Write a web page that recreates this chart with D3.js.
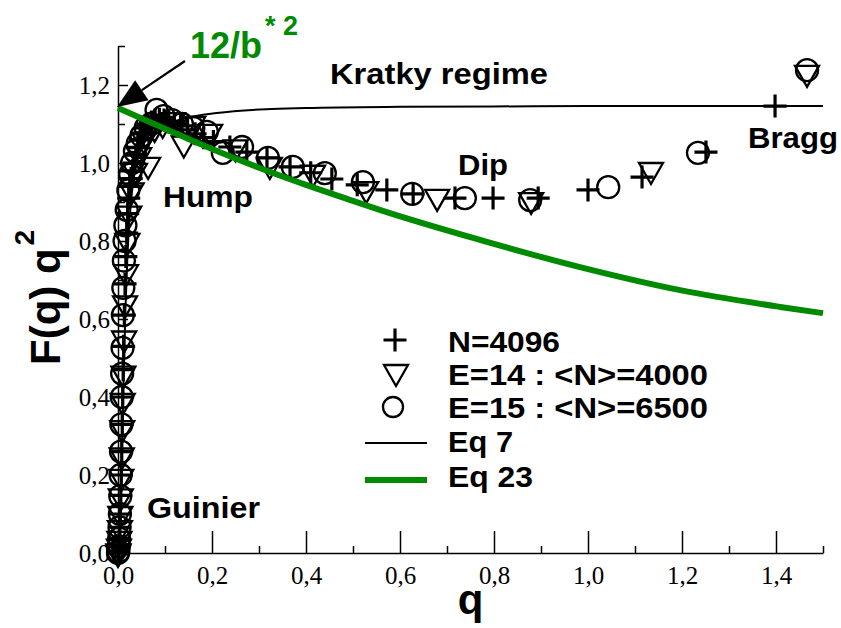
<!DOCTYPE html>
<html><head><meta charset="utf-8">
<script src="https://cdn.jsdelivr.net/npm/d3@7"></script>
<style>body{margin:0;background:#fff}svg{display:block}</style>
</head><body>
<svg id="chart" width="841" height="628"></svg>
<script>
// ---------- data ----------
const xTickValues = [0, 0.2, 0.4, 0.6, 0.8, 1.0, 1.2, 1.4];
const xMinorValues = [0.1, 0.3, 0.5, 0.7, 0.9, 1.1, 1.3, 1.5];
const yTickValues = [0, 0.2, 0.4, 0.6, 0.8, 1.0, 1.2];
const yMinorValues = [0.1, 0.3, 0.5, 0.7, 0.9, 1.1, 1.3];

// N=4096 (plus)
const plusQ = [0,0.001,0.002,0.003,0.004,0.005,0.006,0.007,0.008,0.009,0.010,0.011,0.012,0.0135,0.015,0.0167,0.0185,0.0205,0.0228,0.025,0.028,0.031,0.034,0.038,0.042,0.047,0.052,0.058,0.064,0.071,0.079,0.088,0.098,0.108,0.120,0.133,0.148,0.164,0.182,0.203,0.238,0.274,0.317,0.366,0.41,0.455,0.509,0.572,0.628,0.717,0.798,0.894,1.0,1.115,1.251,1.398];
const plusV = [0,0.004,0.016,0.037,0.066,0.10,0.148,0.20,0.26,0.33,0.40,0.47,0.53,0.61,0.69,0.76,0.82,0.87,0.91,0.94,0.96,0.98,1.00,1.02,1.04,1.06,1.075,1.09,1.10,1.105,1.11,1.112,1.11,1.105,1.10,1.095,1.085,1.075,1.065,1.055,1.041,1.028,1.013,0.990,0.975,0.959,0.944,0.931,0.921,0.910,0.910,0.910,0.931,0.964,1.028,1.146];

// E=14 : <N>=4000 (down triangle)
const triQ = [0,0.001,0.002,0.003,0.004,0.005,0.006,0.007,0.008,0.009,0.010,0.0115,0.013,0.015,0.017,0.020,0.024,0.029,0.036,0.045,0.055,0.064,0.078,0.095,0.117,0.140,0.160,0.196,0.250,0.323,0.415,0.528,0.679,0.879,1.134,1.466];
const triV = [0,0.004,0.016,0.036,0.064,0.10,0.145,0.195,0.25,0.32,0.39,0.46,0.55,0.64,0.72,0.80,0.87,0.93,0.98,1.02,1.06,0.995,1.09,1.10,1.11,1.05,1.10,1.08,1.04,0.995,0.975,0.933,0.913,0.905,0.982,1.231];

// E=15 : <N>=6500 (circle)
const circQ = [0,0.0008,0.0016,0.0024,0.0032,0.004,0.0048,0.0056,0.0064,0.0072,0.008,0.0088,0.0096,0.0104,0.0113,0.0125,0.014,0.0157,0.0185,0.022,0.026,0.030,0.036,0.042,0.050,0.059,0.070,0.082,0.097,0.115,0.136,0.160,0.189,0.223,0.264,0.319,0.372,0.44,0.521,0.626,0.738,0.877,1.043,1.234,1.466];
const circV = [0,0.004,0.017,0.037,0.066,0.10,0.146,0.20,0.26,0.33,0.40,0.46,0.526,0.61,0.68,0.75,0.80,0.84,0.88,0.93,0.97,1.0,1.03,1.05,1.07,1.09,1.10,1.136,1.12,1.11,1.10,1.09,1.08,1.026,1.041,1.013,0.99,0.974,0.951,0.921,0.91,0.905,0.938,1.026,1.238];

// Eq 7 (black thin line)
const eq7Q = [0,0.004,0.008,0.012,0.016,0.02,0.03,0.04,0.06,0.08,0.1,0.143,0.21,0.315,0.4,0.6,0.8,1.0,1.2,1.5];
const eq7V = [0,0.06,0.24,0.45,0.63,0.76,0.93,1.0,1.06,1.085,1.098,1.115,1.128,1.138,1.141,1.144,1.145,1.146,1.146,1.146];

// Eq 23 (green thick line)
const eq23Q = [0,0.1,0.2,0.3,0.4,0.5,0.557,0.77,0.983,1.196,1.409,1.5];
const eq23V = [1.141,1.088,1.036,0.988,0.944,0.903,0.88,0.803,0.733,0.674,0.631,0.615];

const legendLabels = ["N=4096", "E=14 : <N>=4000", "E=15 : <N>=6500", "Eq 7", "Eq 23"];

// ---------- drawing ----------
const GREEN = "#008a00";
const SANS = "'Liberation Sans', Arial, Helvetica, sans-serif";
const SERIF = "'Liberation Serif', 'Times New Roman', serif";
const svg = d3.select("#chart");
const x = d3.scaleLinear().domain([0, 1.5]).range([118, 823]);
const y = d3.scaleLinear().domain([0, 1.3]).range([553, 46]);
const fmt = d => d.toFixed(1).replace(".", ",");

// x axis
const gx = svg.append("g").attr("transform", `translate(0,${y(0)})`);
gx.call(d3.axisBottom(x).tickValues(xTickValues).tickSizeInner(-22).tickSizeOuter(0).tickFormat(fmt));
const gxm = svg.append("g").attr("transform", `translate(0,${y(0)})`);
gxm.call(d3.axisBottom(x).tickValues(xMinorValues).tickSizeInner(-7).tickSizeOuter(0).tickFormat(""));
gxm.select(".domain").remove();
gx.selectAll("text").attr("y", 31).attr("dy", 0)
  .style("font-family", SERIF).style("font-size", "25px").attr("fill", "#000");

// y axis
const gy = svg.append("g").attr("transform", `translate(${x(0)},0)`);
gy.call(d3.axisLeft(y).tickValues(yTickValues).tickSizeInner(-10).tickSizeOuter(0).tickFormat(fmt));
const gym = svg.append("g").attr("transform", `translate(${x(0)},0)`);
gym.call(d3.axisLeft(y).tickValues(yMinorValues).tickSizeInner(-7).tickSizeOuter(0).tickFormat(""));
gym.select(".domain").remove();
gy.selectAll("text").attr("x", -8).attr("dy", "0.34em")
  .style("font-family", SERIF).style("font-size", "25px").attr("fill", "#000");

svg.selectAll(".domain, .tick line").attr("stroke", "#000").attr("stroke-width", 1.5);

// markers
const plusPath = "M-11.5,0H11.5M0,-11.5V11.5";
const triPath = "M-12,-7L12,-7L0,14Z";

const plusData = d3.zip(plusQ, plusV);
const triData = d3.zip(triQ, triV);
const circData = d3.zip(circQ, circV);

svg.append("g").selectAll("path").data(plusData).join("path")
  .attr("d", plusPath).attr("transform", d => `translate(${x(d[0])},${y(d[1])})`)
  .attr("fill", "none").attr("stroke", "#000").attr("stroke-width", 3.2);
svg.append("g").selectAll("path").data(triData).join("path")
  .attr("d", triPath).attr("transform", d => `translate(${x(d[0])},${y(d[1])})`)
  .attr("fill", "none").attr("stroke", "#000").attr("stroke-width", 2.3);
svg.append("g").selectAll("circle").data(circData).join("circle")
  .attr("cx", d => x(d[0])).attr("cy", d => y(d[1])).attr("r", 11)
  .attr("fill", "none").attr("stroke", "#000").attr("stroke-width", 2.3);

// lines
const line = d3.line().x(d => x(d[0])).y(d => y(d[1])).curve(d3.curveMonotoneX);
svg.append("path").datum(d3.zip(eq7Q, eq7V)).attr("d", line)
  .attr("fill", "none").attr("stroke", "#000").attr("stroke-width", 2);
svg.append("path").datum(d3.zip(eq23Q, eq23V)).attr("d", line)
  .attr("fill", "none").attr("stroke", GREEN).attr("stroke-width", 6);

// arrow to 12/b*2
const tip = [117, 107], start = [185, 61];
const ang = Math.atan2(tip[1] - start[1], tip[0] - start[0]);
const hl = 30, hw = 12;
const bx = tip[0] - hl * Math.cos(ang), by = tip[1] - hl * Math.sin(ang);
svg.append("line").attr("x1", start[0]).attr("y1", start[1]).attr("x2", bx).attr("y2", by)
  .attr("stroke", "#000").attr("stroke-width", 2.2);
svg.append("path")
  .attr("d", `M${tip[0]},${tip[1]}L${bx - hw * Math.sin(ang)},${by + hw * Math.cos(ang)}L${bx + hw * Math.sin(ang)},${by - hw * Math.cos(ang)}Z`)
  .attr("fill", "#000");

// 12/b*2 label
const lab = svg.append("text").attr("x", 190).attr("y", 58)
  .style("font-family", SANS).style("font-weight", "bold").style("font-size", "36px").attr("fill", GREEN);
lab.append("tspan").text("12/b");
svg.append("text").attr("x", 265).attr("y", 35).text("* 2")
  .style("font-family", SANS).style("font-weight", "bold").style("font-size", "27px").attr("fill", GREEN);

// annotations
const ann = [
  {t: "Kratky regime", x: 330, y: 84, w: 218},
  {t: "Hump", x: 163, y: 207, w: 90},
  {t: "Dip", x: 458, y: 175, w: 50},
  {t: "Bragg", x: 748, y: 148, w: 90},
  {t: "Guinier", x: 147, y: 518, w: 113}
];
svg.append("g").selectAll("text").data(ann).join("text")
  .attr("x", d => d.x).attr("y", d => d.y).text(d => d.t)
  .attr("textLength", d => d.w).attr("lengthAdjust", "spacingAndGlyphs")
  .style("font-family", SANS).style("font-weight", "bold").style("font-size", "30px").attr("fill", "#000");

// axis titles
const yl = svg.append("text").attr("transform", "translate(60,365) rotate(-90)")
  .style("font-family", SANS).style("font-weight", "bold").style("font-size", "42px").attr("fill", "#000");
yl.append("tspan").text("F(q) q");
yl.append("tspan").text("2").style("font-size", "28px").attr("dx", 3).attr("dy", -26);
svg.append("text").attr("x", x(0.75)).attr("y", 614).attr("text-anchor", "middle").text("q")
  .style("font-family", SANS).style("font-weight", "bold").style("font-size", "42px").attr("fill", "#000");

// legend
const lg = svg.append("g");
const rowBase = [352, 385, 418, 452, 487];
const lw = [112, 260, 260, 65, 85];
lg.selectAll("text").data(legendLabels).join("text")
  .attr("x", 448).attr("y", (d, i) => rowBase[i]).text(d => d)
  .attr("textLength", (d, i) => lw[i]).attr("lengthAdjust", "spacingAndGlyphs")
  .style("font-family", SANS).style("font-weight", "bold").style("font-size", "30px").attr("fill", "#000");
lg.append("path").attr("d", plusPath).attr("transform", "translate(395,340)")
  .attr("fill", "none").attr("stroke", "#000").attr("stroke-width", 3.2);
lg.append("path").attr("d", triPath).attr("transform", "translate(396,372)")
  .attr("fill", "none").attr("stroke", "#000").attr("stroke-width", 2.3);
lg.append("circle").attr("cx", 393).attr("cy", 407).attr("r", 10)
  .attr("fill", "none").attr("stroke", "#000").attr("stroke-width", 2.3);
lg.append("line").attr("x1", 365).attr("x2", 427).attr("y1", 443).attr("y2", 443)
  .attr("stroke", "#000").attr("stroke-width", 2);
lg.append("line").attr("x1", 365).attr("x2", 427).attr("y1", 480).attr("y2", 480)
  .attr("stroke", GREEN).attr("stroke-width", 6);
</script>
</body></html>
